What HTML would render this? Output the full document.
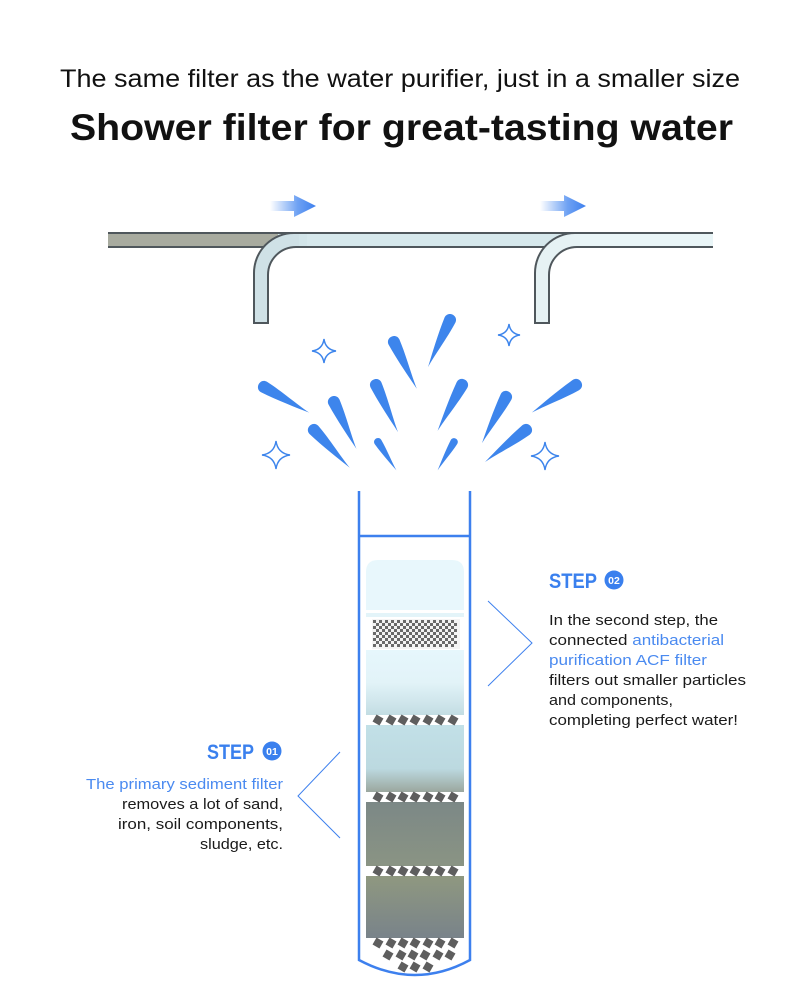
<!DOCTYPE html>
<html><head><meta charset="utf-8"><style>html,body{margin:0;padding:0;background:#fff}svg{display:block}</style></head>
<body>
<svg width="800" height="1000" viewBox="0 0 800 1000" xmlns="http://www.w3.org/2000/svg" font-family="Liberation Sans, sans-serif">
<defs>
<linearGradient id="arr" x1="0" x2="1" y1="0" y2="0"><stop offset="0" stop-color="#4a8af0" stop-opacity="0"/><stop offset="0.6" stop-color="#4a8af0" stop-opacity="0.8"/><stop offset="1" stop-color="#3d7fee"/></linearGradient>
<linearGradient id="l2" x1="0" y1="0" x2="0" y2="1"><stop offset="0" stop-color="#e6f7fc"/><stop offset="0.5" stop-color="#e2f3f8"/><stop offset="1" stop-color="#c3dde3"/></linearGradient>
<linearGradient id="l3" x1="0" y1="0" x2="0" y2="1"><stop offset="0" stop-color="#c2e0e7"/><stop offset="0.65" stop-color="#bcd9e0"/><stop offset="1" stop-color="#9ba79e"/></linearGradient>
<linearGradient id="l4" x1="0" y1="0" x2="0" y2="1"><stop offset="0" stop-color="#7c8886"/><stop offset="1" stop-color="#8a9484"/></linearGradient>
<linearGradient id="l5" x1="0" y1="0" x2="0" y2="1"><stop offset="0" stop-color="#8f9880"/><stop offset="1" stop-color="#79838a"/></linearGradient>
<path id="drop" d="M0,-6 C-8,-6 -8,6 0,6 C18,5 38,2 52,0 C38,-1 18,-5 0,-6Z" fill="#3d85ec"/>
<path id="spk" d="M0,-1 Q0.12,-0.12 1,0 Q0.12,0.12 0,1 Q-0.12,0.12 -1,0 Q-0.12,-0.12 0,-1Z"/>
<rect id="dm" x="-4" y="-4" width="8" height="8" fill="#5e5e5e"/>
</defs>

<text x="60" y="87" font-size="25" textLength="680" lengthAdjust="spacingAndGlyphs" fill="#111">The same filter as the water purifier, just in a smaller size</text>
<text x="70" y="140" font-size="37" font-weight="bold" textLength="663" lengthAdjust="spacingAndGlyphs" fill="#111">Shower filter for great-tasting water</text>

<path d="M270,201 H294 V195 L316,206 L294,217 V211 H270Z" fill="url(#arr)"/>
<path d="M540,201 H564 V195 L586,206 L564,217 V211 H540Z" fill="url(#arr)"/>

<rect x="108" y="233" width="605" height="14" fill="#d6e8ec"/>
<rect x="108" y="233" width="170" height="14" fill="#a8ab9f"/>
<rect x="560" y="233" width="153" height="14" fill="#e9f5f7"/>
<line x1="108" y1="233" x2="713" y2="233" stroke="#4f575c" stroke-width="2"/>
<line x1="108" y1="247" x2="713" y2="247" stroke="#4f575c" stroke-width="2"/>
<path d="M254,323 V273 A40,40 0 0 1 294,233 H300 V247 H296 A28,28 0 0 0 268,275 V323Z" fill="#cfe1e6" stroke="#4f575c" stroke-width="2"/>
<path d="M535,323 V273 A40,40 0 0 1 575,233 H581 V247 H577 A28,28 0 0 0 549,275 V323Z" fill="#e6f2f4" stroke="#4f575c" stroke-width="2"/>
<rect x="299" y="234" width="8" height="12" fill="#d2e5e9"/>
<rect x="580" y="234" width="8" height="12" fill="#e9f5f7"/>

<use href="#drop" transform="translate(264,387) rotate(29.6)"/>
<use href="#drop" transform="translate(334,402) rotate(64.4)"/>
<use href="#drop" transform="translate(314,430) rotate(46.5)"/>
<use href="#drop" transform="translate(376,385) rotate(64.9)"/>
<use href="#drop" transform="translate(394,342) rotate(64)"/>
<use href="#drop" transform="translate(378,442) rotate(57) scale(0.65)"/>
<use href="#drop" transform="translate(450,320) rotate(115)"/>
<use href="#drop" transform="translate(462,385) rotate(118)"/>
<use href="#drop" transform="translate(454,442) rotate(120) scale(0.63)"/>
<use href="#drop" transform="translate(506,397) rotate(117.5)"/>
<use href="#drop" transform="translate(526,430) rotate(142)"/>
<use href="#drop" transform="translate(576,385) rotate(148)"/>

<g fill="#fff" stroke="#3d85ec">
<use href="#spk" transform="translate(324,351) scale(12)" stroke-width="0.12"/>
<use href="#spk" transform="translate(509,335) scale(11)" stroke-width="0.13"/>
<use href="#spk" transform="translate(276,455) scale(14)" stroke-width="0.1"/>
<use href="#spk" transform="translate(545,456) scale(14)" stroke-width="0.1"/>
</g>

<path d="M366,572 Q366,560 378,560 H452 Q464,560 464,572 V610 H366Z" fill="#e8f7fc"/>
<rect x="366" y="613" width="98" height="4" fill="#e3f4f9"/>
<rect x="372" y="619" width="88" height="30" fill="#f4f4f4"/>
<g fill="#6a6a6a">
<g id="rowA">
<rect x="373" y="620" width="3" height="3"/><rect x="379" y="620" width="3" height="3"/><rect x="385" y="620" width="3" height="3"/><rect x="391" y="620" width="3" height="3"/><rect x="397" y="620" width="3" height="3"/><rect x="403" y="620" width="3" height="3"/><rect x="409" y="620" width="3" height="3"/><rect x="415" y="620" width="3" height="3"/><rect x="421" y="620" width="3" height="3"/><rect x="427" y="620" width="3" height="3"/><rect x="433" y="620" width="3" height="3"/><rect x="439" y="620" width="3" height="3"/><rect x="445" y="620" width="3" height="3"/><rect x="451" y="620" width="3" height="3"/>
</g>
<use href="#rowA" transform="translate(3,3)"/>
<use href="#rowA" transform="translate(0,6)"/>
<use href="#rowA" transform="translate(3,9)"/>
<use href="#rowA" transform="translate(0,12)"/>
<use href="#rowA" transform="translate(3,15)"/>
<use href="#rowA" transform="translate(0,18)"/>
<use href="#rowA" transform="translate(3,21)"/>
<use href="#rowA" transform="translate(0,24)"/>
</g>
<rect x="366" y="650" width="98" height="65" fill="url(#l2)"/>
<rect x="366" y="725" width="98" height="67" fill="url(#l3)"/>
<rect x="366" y="802" width="98" height="64" fill="url(#l4)"/>
<rect x="366" y="876" width="98" height="62" fill="url(#l5)"/>

<g id="drow" transform="translate(0,720)">
<use href="#dm" transform="translate(378,0) rotate(30)"/>
<use href="#dm" transform="translate(391,0) rotate(30)"/>
<use href="#dm" transform="translate(403,0) rotate(30)"/>
<use href="#dm" transform="translate(415,0) rotate(30)"/>
<use href="#dm" transform="translate(428,0) rotate(30)"/>
<use href="#dm" transform="translate(440,0) rotate(30)"/>
<use href="#dm" transform="translate(453,0) rotate(30)"/>
</g>
<use href="#drow" transform="translate(0,77)"/>
<use href="#drow" transform="translate(0,151)"/>
<use href="#drow" transform="translate(0,223)"/>
<g transform="translate(6,0)">
<use href="#dm" transform="translate(382,955) rotate(30)"/>
<use href="#dm" transform="translate(395,955) rotate(30)"/>
<use href="#dm" transform="translate(407,955) rotate(30)"/>
<use href="#dm" transform="translate(419,955) rotate(30)"/>
<use href="#dm" transform="translate(432,955) rotate(30)"/>
<use href="#dm" transform="translate(444,955) rotate(30)"/>
</g>
<use href="#dm" transform="translate(403,967) rotate(30)"/>
<use href="#dm" transform="translate(415,967) rotate(30)"/>
<use href="#dm" transform="translate(428,967) rotate(30)"/>

<path d="M359,491 V960 Q415,990 470,960 V491" fill="none" stroke="#3d80ee" stroke-width="2.5"/>
<line x1="359" y1="536" x2="470" y2="536" stroke="#3d80ee" stroke-width="2.5"/>

<polyline points="488,601 532,643 488,686" fill="none" stroke="#3d80ee" stroke-width="1"/>
<polyline points="340,752 298,796 340,838" fill="none" stroke="#3d80ee" stroke-width="1"/>

<text x="549" y="588" font-size="21" font-weight="bold" fill="#3a80ee" textLength="48" lengthAdjust="spacingAndGlyphs">STEP</text>
<circle cx="614" cy="580" r="9.5" fill="#3a80ee"/>
<text x="614" y="584" font-size="10.5" font-weight="bold" fill="#fff" text-anchor="middle">02</text>
<g font-size="15" fill="#1a1a1a">
<text x="549" y="625" textLength="169" lengthAdjust="spacingAndGlyphs">In the second step, the</text>
<text x="549" y="645" textLength="175" lengthAdjust="spacingAndGlyphs">connected <tspan fill="#4a8af0">antibacterial</tspan></text>
<text x="549" y="665" textLength="158" lengthAdjust="spacingAndGlyphs" fill="#4a8af0">purification ACF filter</text>
<text x="549" y="685" textLength="197" lengthAdjust="spacingAndGlyphs">filters out smaller particles</text>
<text x="549" y="705" textLength="124" lengthAdjust="spacingAndGlyphs">and components,</text>
<text x="549" y="725" textLength="189" lengthAdjust="spacingAndGlyphs">completing perfect water!</text>
</g>

<text x="207" y="759" font-size="21" font-weight="bold" fill="#3a80ee" textLength="47" lengthAdjust="spacingAndGlyphs">STEP</text>
<circle cx="272" cy="751" r="9.5" fill="#3a80ee"/>
<text x="272" y="755" font-size="10.5" font-weight="bold" fill="#fff" text-anchor="middle">01</text>
<g font-size="15" fill="#1a1a1a" text-anchor="end">
<text x="283" y="789" textLength="197" lengthAdjust="spacingAndGlyphs" fill="#4a8af0">The primary sediment filter</text>
<text x="283" y="809" textLength="161" lengthAdjust="spacingAndGlyphs">removes a lot of sand,</text>
<text x="283" y="829" textLength="165" lengthAdjust="spacingAndGlyphs">iron, soil components,</text>
<text x="283" y="849" textLength="83" lengthAdjust="spacingAndGlyphs">sludge, etc.</text>
</g>
</svg>
</body></html>
